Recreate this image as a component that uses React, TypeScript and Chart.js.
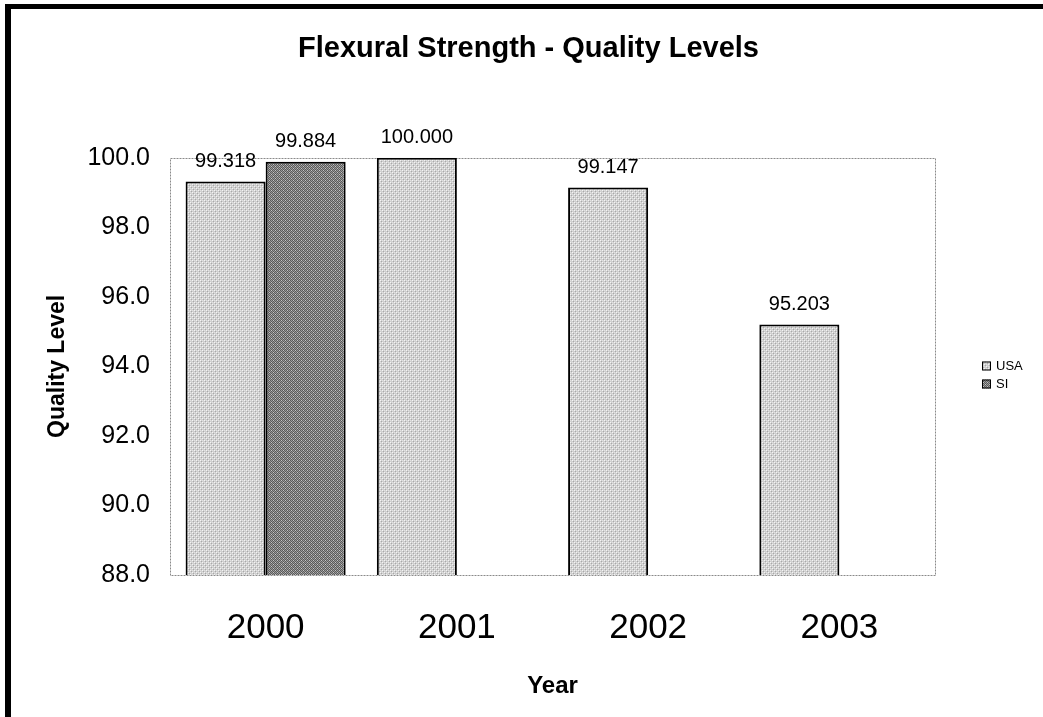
import React, { useEffect, useRef } from "react";
import { Chart, registerables } from "chart.js";

Chart.register(...registerables);

const categories = ["2000", "2001", "2002", "2003"];
const seriesLabels = ["USA", "SI"];
const usaValues: (number | null)[] = [99.318, 100.0, 99.147, 95.203];
const siValues: (number | null)[] = [99.884, null, null, null];
const yTickValues = [88, 90, 92, 94, 96, 98, 100];

const FONT = "'Liberation Sans', Arial, sans-serif";

function makePattern(kind: "light" | "dark"): CanvasPattern | string {
  const c = document.createElement("canvas");
  c.width = 4;
  c.height = 4;
  const g = c.getContext("2d");
  if (!g) return kind === "light" ? "#d0d0d0" : "#888888";
  if (kind === "light") {
    g.fillStyle = "#cfcfcf";
    g.fillRect(0, 0, 4, 4);
    g.fillStyle = "#f4f4f4";
    g.fillRect(0, 0, 1, 1);
    g.fillRect(2, 2, 1, 1);
    g.fillStyle = "#a8a8a8";
    g.fillRect(1, 1, 1, 1);
    g.fillRect(3, 3, 1, 1);
    g.fillStyle = "#e2e2e2";
    g.fillRect(2, 0, 1, 1);
    g.fillRect(0, 2, 1, 1);
  } else {
    g.fillStyle = "#9a9a9a";
    g.fillRect(0, 0, 4, 4);
    g.fillStyle = "#5a5a5a";
    g.fillRect(0, 0, 1, 1);
    g.fillRect(2, 0, 1, 1);
    g.fillRect(1, 1, 1, 1);
    g.fillRect(3, 1, 1, 1);
    g.fillRect(0, 2, 1, 1);
    g.fillRect(2, 2, 1, 1);
    g.fillRect(1, 3, 1, 1);
    g.fillRect(3, 3, 1, 1);
    g.fillStyle = "#c4c4c4";
    g.fillRect(1, 0, 1, 1);
    g.fillRect(3, 2, 1, 1);
  }
  const p = g.createPattern(c, "repeat");
  return p || (kind === "light" ? "#d0d0d0" : "#888888");
}

export default function App() {
  const ref = useRef<HTMLCanvasElement | null>(null);

  useEffect(() => {
    const canvas = ref.current;
    if (!canvas) return;
    const usaFill = makePattern("light");
    const siFill = makePattern("dark");

    const framePlugin = {
      id: "frame",
      beforeDraw(chart: any) {
        const ctx = chart.ctx;
        ctx.save();
        ctx.fillStyle = "#ffffff";
        ctx.fillRect(0, 0, chart.width, chart.height);
        ctx.restore();
      },
      beforeDatasetsDraw(chart: any) {
        const { ctx, chartArea } = chart;
        ctx.save();
        ctx.strokeStyle = "#8a8a8a";
        ctx.lineWidth = 1;
        ctx.setLineDash([2, 1]);
        ctx.strokeRect(
          Math.round(chartArea.left) + 0.5,
          Math.round(chartArea.top) + 0.5,
          Math.round(chartArea.right - chartArea.left),
          Math.round(chartArea.bottom - chartArea.top)
        );
        ctx.restore();
      },
      afterDraw(chart: any) {
        const ctx = chart.ctx;
        ctx.save();
        ctx.fillStyle = "#000000";
        ctx.fillRect(5, 4, 6, chart.height);
        ctx.fillRect(5, 4, chart.width, 5);
        // legend
        const lx = 982;
        const ys = [366, 384];
        chart.data.datasets.forEach((ds: any, i: number) => {
          const y = ys[i];
          ctx.fillStyle = ds.backgroundColor;
          ctx.fillRect(lx, y - 4.5, 9, 9);
          ctx.strokeStyle = "#000";
          ctx.lineWidth = 1;
          ctx.strokeRect(lx + 0.5, y - 4, 8, 8);
          ctx.fillStyle = "#000";
          ctx.font = `13px ${FONT}`;
          ctx.textBaseline = "middle";
          ctx.textAlign = "left";
          ctx.fillText(ds.label, lx + 14, y);
        });
        ctx.restore();
      },
      afterDatasetsDraw(chart: any) {
        const ctx = chart.ctx;
        ctx.save();
        ctx.fillStyle = "#000";
        ctx.font = `20px ${FONT}`;
        ctx.textAlign = "center";
        ctx.textBaseline = "middle";
        chart.data.datasets.forEach((ds: any, di: number) => {
          const meta = chart.getDatasetMeta(di);
          meta.data.forEach((el: any, idx: number) => {
            const v = ds.data[idx];
            if (v === null || v === undefined) return;
            ctx.fillText(Number(v).toFixed(3), el.x, el.y - 20);
          });
        });
        ctx.restore();
      },
    };

    const chart = new Chart(canvas, {
      type: "bar",
      data: {
        labels: categories,
        datasets: [
          {
            label: seriesLabels[0],
            data: usaValues,
            backgroundColor: usaFill as any,
            borderColor: "#000000",
            borderWidth: 2,
            borderSkipped: false,
            categoryPercentage: 0.837,
            barPercentage: 1.0,
          },
          {
            label: seriesLabels[1],
            data: siValues,
            backgroundColor: siFill as any,
            borderColor: "#000000",
            borderWidth: 2,
            borderSkipped: false,
            categoryPercentage: 0.837,
            barPercentage: 1.0,
          },
        ],
      },
      options: {
        responsive: false,
        animation: false,
        devicePixelRatio: 1,
        layout: { padding: { left: 14, right: 0, top: 0, bottom: 0 } },
        plugins: {
          legend: { display: false },
          tooltip: { enabled: false },
          title: {
            display: true,
            text: "Flexural Strength - Quality Levels",
            color: "#000",
            font: { family: FONT, size: 29, weight: "bold" },
            padding: { top: 32, bottom: 91 },
          },
        },
        scales: {
          x: {
            grid: { display: false, drawTicks: false },
            border: { display: false },
            ticks: {
              color: "#000",
              font: { family: FONT, size: 35 },
              padding: 32,
              maxRotation: 0,
            },
            title: {
              display: true,
              text: "Year",
              color: "#000",
              font: { family: FONT, size: 24, weight: "bold" },
              padding: { top: 0, bottom: 16 },
            },
            afterFit(s: any) {
              s.height = 142;
            },
          },
          y: {
            min: 88,
            max: 100,
            grid: { display: false, drawTicks: false },
            border: { display: false },
            afterBuildTicks(s: any) {
              s.ticks = yTickValues.map((v) => ({ value: v }));
            },
            ticks: {
              color: "#000",
              font: { family: FONT, size: 25 },
              padding: 20,
              callback: (v: any) => Number(v).toFixed(1),
            },
            title: {
              display: true,
              text: "Quality Level",
              color: "#000",
              font: { family: FONT, size: 23, weight: "bold" },
              padding: { top: 30, bottom: 0 },
            },
            afterFit(s: any) {
              s.width = 156;
            },
          },
          yR: {
            position: "right",
            display: true,
            grid: { display: false, drawTicks: false },
            border: { display: false },
            ticks: { display: false },
            afterFit(s: any) {
              s.width = 108;
            },
          },
        },
      },
      plugins: [framePlugin],
    } as any);

    return () => {
      chart.destroy();
    };
  }, []);

  return (
    <div style={{ position: "fixed", left: 0, top: 0, width: 1043, height: 717 }}>
      <canvas ref={ref} width={1043} height={717} />
    </div>
  );
}
